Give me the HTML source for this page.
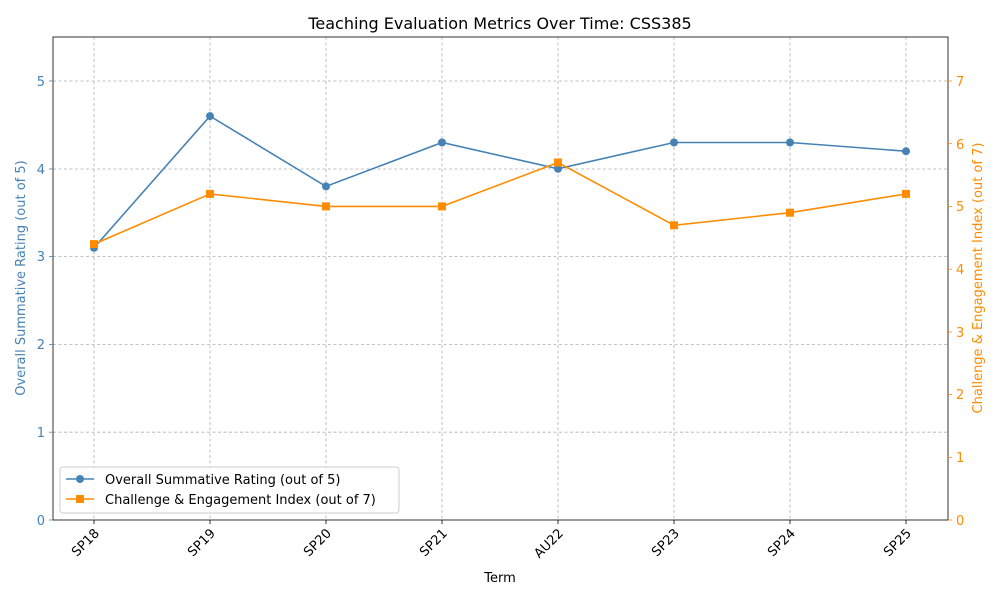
<!DOCTYPE html>
<html><head><style>body{margin:0;background:#fff}svg{display:block}text{font-family:"DejaVu Sans","Liberation Sans",sans-serif}</style></head>
<body>
<svg width="1000" height="600" xmlns="http://www.w3.org/2000/svg">
<rect width="1000" height="600" fill="#fff"/>
<text x="500" y="29" font-size="16" text-anchor="middle">Teaching Evaluation Metrics Over Time: CSS385</text>
<g stroke="#b0b0b0" stroke-dasharray="3,2.5" stroke-width="0.8">
<line x1="53" x2="948" y1="81" y2="81"/><line x1="53" x2="948" y1="169" y2="169"/><line x1="53" x2="948" y1="256.6" y2="256.6"/><line x1="53" x2="948" y1="344.4" y2="344.4"/><line x1="53" x2="948" y1="432.2" y2="432.2"/>
<line x1="94" x2="94" y1="37" y2="520"/><line x1="210" x2="210" y1="37" y2="520"/><line x1="326" x2="326" y1="37" y2="520"/><line x1="442" x2="442" y1="37" y2="520"/><line x1="558" x2="558" y1="37" y2="520"/><line x1="674" x2="674" y1="37" y2="520"/><line x1="790" x2="790" y1="37" y2="520"/><line x1="906" x2="906" y1="37" y2="520"/>
</g>
<rect x="53" y="37" width="895" height="483" fill="none" stroke="#000" stroke-width="0.8"/>
<g stroke="#000" stroke-width="0.8">
<line x1="94" x2="94" y1="520" y2="524"/><line x1="210" x2="210" y1="520" y2="524"/><line x1="326" x2="326" y1="520" y2="524"/><line x1="442" x2="442" y1="520" y2="524"/><line x1="558" x2="558" y1="520" y2="524"/><line x1="674" x2="674" y1="520" y2="524"/><line x1="790" x2="790" y1="520" y2="524"/><line x1="906" x2="906" y1="520" y2="524"/>
</g>
<g stroke="#4682b4" stroke-width="0.8">
<line x1="49" x2="53" y1="520" y2="520"/><line x1="49" x2="53" y1="432.2" y2="432.2"/><line x1="49" x2="53" y1="344.4" y2="344.4"/><line x1="49" x2="53" y1="256.6" y2="256.6"/><line x1="49" x2="53" y1="169" y2="169"/><line x1="49" x2="53" y1="81" y2="81"/>
</g>
<g fill="#4682b4" font-size="13" text-anchor="end">
<text x="45" y="525">0</text><text x="45" y="437">1</text><text x="45" y="349">2</text><text x="45" y="261">3</text><text x="45" y="174">4</text><text x="45" y="86">5</text>
</g>
<g stroke="#ff8c00" stroke-width="0.8">
<line x1="948" x2="952" y1="520" y2="520"/><line x1="948" x2="952" y1="457.3" y2="457.3"/><line x1="948" x2="952" y1="394.6" y2="394.6"/><line x1="948" x2="952" y1="331.9" y2="331.9"/><line x1="948" x2="952" y1="269.2" y2="269.2"/><line x1="948" x2="952" y1="206.4" y2="206.4"/><line x1="948" x2="952" y1="143.7" y2="143.7"/><line x1="948" x2="952" y1="81" y2="81"/>
</g>
<g fill="#ff8c00" font-size="13">
<text x="956" y="525">0</text><text x="956" y="462">1</text><text x="956" y="399">2</text><text x="956" y="337">3</text><text x="956" y="274">4</text><text x="956" y="211">5</text><text x="956" y="149">6</text><text x="956" y="86">7</text>
</g>
<g font-size="13" text-anchor="end">
<text transform="translate(100,534) rotate(-45)">SP18</text>
<text transform="translate(216,534) rotate(-45)">SP19</text>
<text transform="translate(332,534) rotate(-45)">SP20</text>
<text transform="translate(448,534) rotate(-45)">SP21</text>
<text transform="translate(564,534) rotate(-45)">AU22</text>
<text transform="translate(680,534) rotate(-45)">SP23</text>
<text transform="translate(796,534) rotate(-45)">SP24</text>
<text transform="translate(912,534) rotate(-45)">SP25</text>
</g>
<text x="500" y="582" font-size="13" text-anchor="middle">Term</text>
<text transform="translate(25,278) rotate(-90)" font-size="13" fill="#4682b4" text-anchor="middle">Overall Summative Rating (out of 5)</text>
<text transform="translate(982,278) rotate(-90)" font-size="13" fill="#ff8c00" text-anchor="middle">Challenge &amp; Engagement Index (out of 7)</text>
<polyline fill="none" stroke="#4682b4" stroke-width="1.6" points="94,247.8 210,116.1 326,186.4 442,142.5 558,168.8 674,142.5 790,142.5 906,151.2"/>
<g fill="#4682b4"><circle cx="94" cy="247.8" r="4"/><circle cx="210" cy="116.1" r="4"/><circle cx="326" cy="186.4" r="4"/><circle cx="442" cy="142.5" r="4"/><circle cx="558" cy="168.8" r="4"/><circle cx="674" cy="142.5" r="4"/><circle cx="790" cy="142.5" r="4"/><circle cx="906" cy="151.2" r="4"/></g>
<polyline fill="none" stroke="#ff8c00" stroke-width="1.6" points="94,244.1 210,193.9 326,206.4 442,206.4 558,162.5 674,225.3 790,212.7 906,193.9"/>
<g fill="#ff8c00"><rect x="90" y="240.1" width="8" height="8"/><rect x="206" y="189.9" width="8" height="8"/><rect x="322" y="202.4" width="8" height="8"/><rect x="438" y="202.4" width="8" height="8"/><rect x="554" y="158.5" width="8" height="8"/><rect x="670" y="221.3" width="8" height="8"/><rect x="786" y="208.7" width="8" height="8"/><rect x="902" y="189.9" width="8" height="8"/></g>
<rect x="60" y="467" width="339" height="46" rx="3" fill="#fff" fill-opacity="0.8" stroke="#ccc"/>
<line x1="66" x2="94" y1="479" y2="479" stroke="#4682b4" stroke-width="1.6"/><circle cx="80" cy="479" r="4" fill="#4682b4"/>
<text x="105" y="484" font-size="13">Overall Summative Rating (out of 5)</text>
<line x1="66" x2="94" y1="499" y2="499" stroke="#ff8c00" stroke-width="1.6"/><rect x="76" y="495" width="8" height="8" fill="#ff8c00"/>
<text x="105" y="504" font-size="13">Challenge &amp; Engagement Index (out of 7)</text>
</svg>
</body></html>
